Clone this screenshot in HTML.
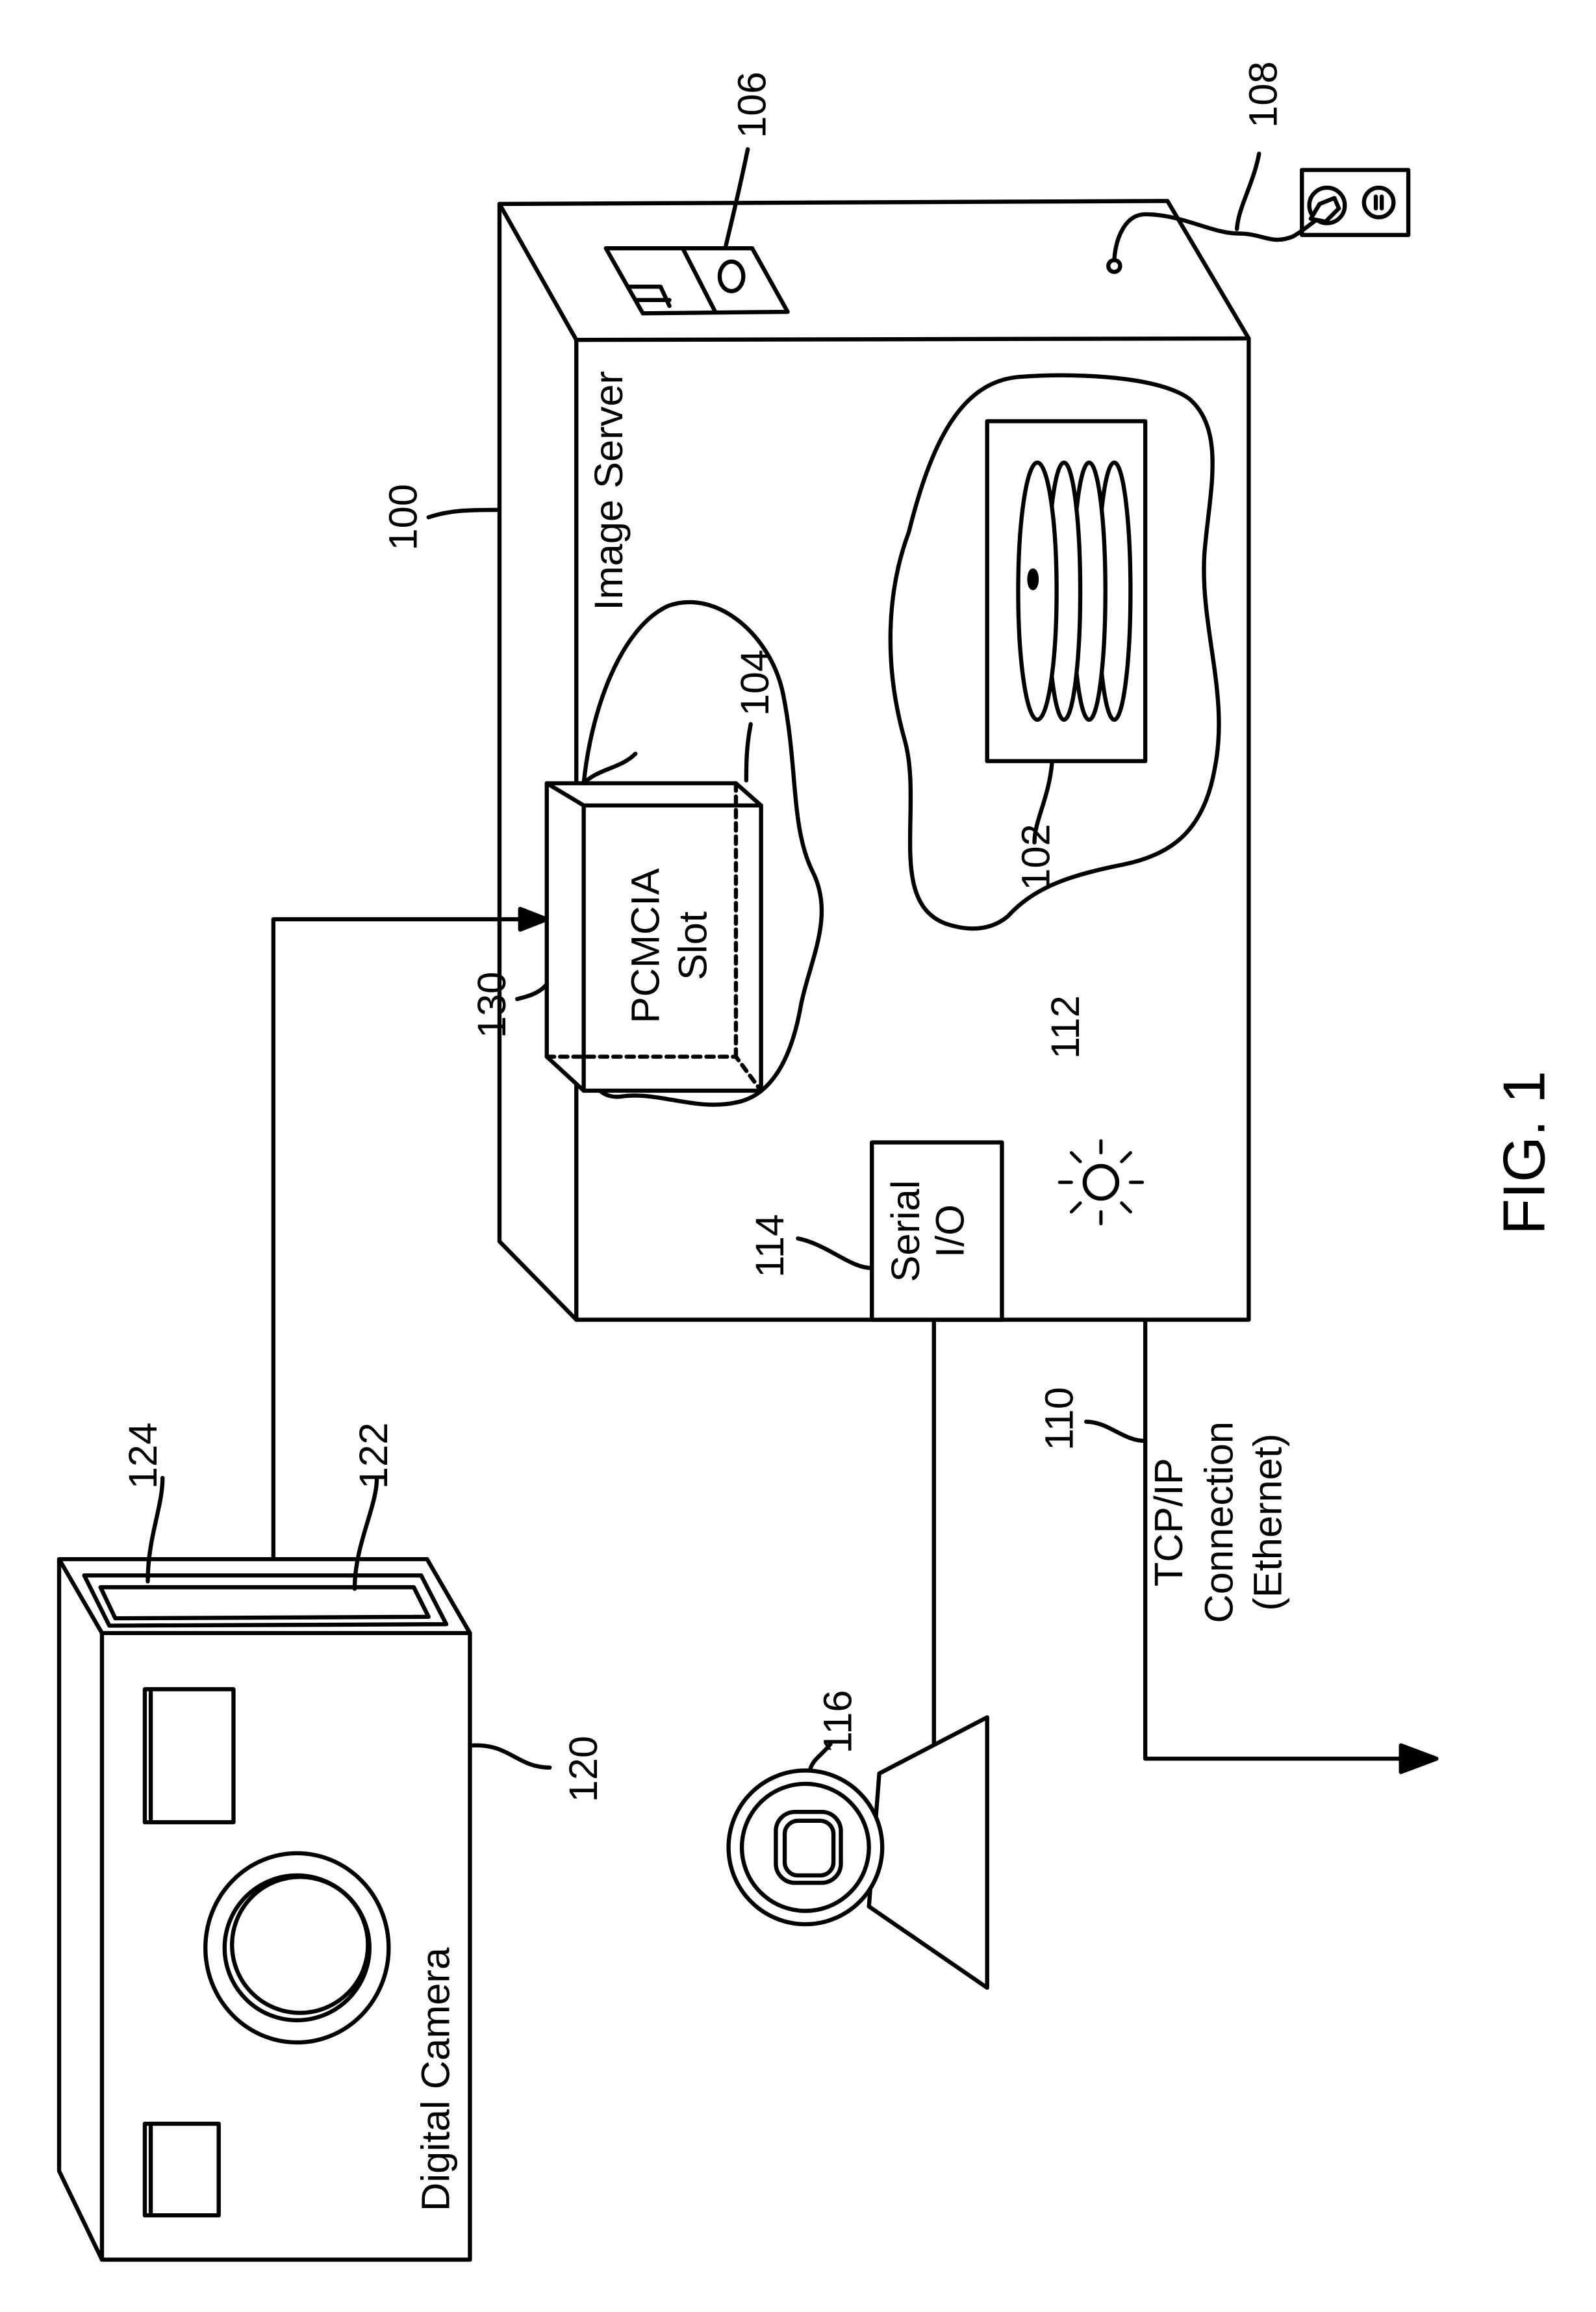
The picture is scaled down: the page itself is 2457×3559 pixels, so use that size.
<!DOCTYPE html>
<html><head><meta charset="utf-8"><style>
html,body{margin:0;padding:0;background:#fff;}
svg{display:block;}
text{font-family:"Liberation Sans",sans-serif;fill:#000;}
</style></head><body>
<svg xmlns="http://www.w3.org/2000/svg" width="2457" height="3559" viewBox="0 0 2457 3559">
<rect width="2457" height="3559" fill="#fff"/>
<g transform="scale(2.275)" fill="none" stroke="#000" stroke-width="2.8" stroke-linejoin="round" stroke-linecap="round">
<!-- Server -->
<polygon points="338,138 790,136 845,229 845,893 390,893 338,840" fill="#fff"/>
<polyline points="338,138 390,230 845,229"/>
<line x1="390" y1="230" x2="390" y2="893"/>
<!-- switch 106 -->
<polygon points="410,168 509,168 533,211 435,212"/>
<line x1="462" y1="168" x2="484" y2="211"/>
<polyline points="426,194 447,194 453,207"/>
<line x1="430" y1="203" x2="453" y2="203"/>
<ellipse cx="495" cy="187" rx="8" ry="10"/>
<path d="M506,101 C500,130 495,150 491,167"/>
<!-- power -->
<circle cx="754" cy="180" r="4"/>
<path d="M754,176 C755,160 762,145 775,145 C800,145 820,158 838,158 C855,158 860,166 875,160 C882,156 886,152 892,148"/>
<rect x="881" y="115" width="72" height="44"/>
<circle cx="898" cy="139" r="12"/>
<path d="M887,148 L893,138 L903,134 L906,141 L897,150 Z" fill="#fff"/>
<circle cx="933" cy="137" r="10"/>
<line x1="931" y1="133" x2="931" y2="141"/><line x1="935" y1="133" x2="935" y2="141"/>
<path d="M852,104 C848,125 838,140 837,155"/>
<!-- 100 leader -->
<path d="M290,350 C305,345 318,345 338,345"/>
<!-- cloud 102 -->
<path d="M640,625 C600,610 625,545 612,500 C598,450 600,400 615,360 C630,300 650,258 690,255 C730,252 785,255 805,270 C830,292 818,335 815,375 C812,425 832,470 822,520 C815,560 795,578 760,585 C725,592 700,600 682,620 C670,630 655,630 640,625 Z"/>
<rect x="668" y="285" width="107" height="230"/>
<ellipse cx="754" cy="400" rx="11" ry="87" fill="#fff"/>
<ellipse cx="737" cy="400" rx="11" ry="87" fill="#fff"/>
<ellipse cx="720" cy="400" rx="11" ry="87" fill="#fff"/>
<ellipse cx="702" cy="400" rx="13" ry="87" fill="#fff"/>
<ellipse cx="699" cy="392" rx="2.5" ry="6" fill="#000"/>
<path d="M712,515 C710,540 700,555 700,570"/>
<!-- cloud 104 -->
<path d="M395,530 C400,480 420,425 452,410 C485,398 522,430 530,470 C540,520 535,560 550,590 C565,620 548,650 542,680 C535,720 520,742 498,746 C470,752 445,738 420,742 C402,744 395,725 395,705"/>
<!-- PCMCIA -->
<polygon points="370,530 498,530 515,545 515,738 395,738 370,715" fill="#fff"/>
<polyline points="370,530 395,545 515,545"/>
<line x1="395" y1="545" x2="395" y2="738"/>
<polyline points="370,715 498,715 515,738" stroke-dasharray="5,4"/>
<line x1="498" y1="530" x2="498" y2="715" stroke-dasharray="5,4"/>
<path d="M508,490 C505,505 505,518 505,528"/>
<path d="M395,530 C405,520 420,520 430,510" />
<path d="M350,676 C358,674 365,672 370,666"/>
<!-- arrow from camera -->
<polyline points="185,1075 185,622 355,622"/>
<polygon points="370,622 352,615 352,629" fill="#000"/>
<!-- Serial I/O -->
<rect x="590" y="773" width="88" height="120" fill="#fff"/>
<path d="M540,838 C560,842 575,858 590,858"/>
<!-- sun 112 -->
<circle cx="745" cy="800" r="11"/>
<g stroke-width="2.2">
<line x1="745" y1="780" x2="745" y2="772"/><line x1="745" y1="820" x2="745" y2="828"/>
<line x1="725" y1="800" x2="717" y2="800"/><line x1="765" y1="800" x2="773" y2="800"/>
<line x1="731" y1="786" x2="725" y2="780"/><line x1="759" y1="786" x2="765" y2="780"/>
<line x1="731" y1="814" x2="725" y2="820"/><line x1="759" y1="814" x2="765" y2="820"/>
</g>
<!-- serial line -->
<polyline points="632,893 632,1200 600,1200"/>
<!-- TCP line -->
<polyline points="775,893 775,1190 950,1190"/>
<polygon points="972,1190 948,1181 948,1199" fill="#000"/>
<path d="M735,962 C750,962 760,975 775,975"/>
<!-- camera 116 -->
<polygon points="595,1200 668,1162 668,1345 588,1290" fill="#fff"/>
<circle cx="545" cy="1250" r="52" fill="#fff"/>
<circle cx="545" cy="1250" r="43"/>
<rect x="525" y="1226" width="44" height="48" rx="13"/>
<rect x="531" y="1232" width="33" height="37" rx="9"/>
<path d="M562,1180 C556,1188 550,1190 548,1198"/>
<!-- Digital camera 120 -->
<polygon points="40,1055 289,1055 318,1105 318,1529 69,1529 40,1469" fill="#fff"/>
<polyline points="40,1055 69,1105 318,1105"/>
<line x1="69" y1="1105" x2="69" y2="1529"/>
<polygon points="57,1066 285,1066 302,1099 74,1100"/>
<polygon points="68,1074 280,1074 290,1094 78,1095"/>
<rect x="98" y="1143" width="60" height="90"/>
<line x1="102" y1="1145" x2="102" y2="1231"/>
<rect x="98" y="1437" width="50" height="62"/>
<line x1="102" y1="1439" x2="102" y2="1497"/>
<ellipse cx="201" cy="1318" rx="62" ry="64"/>
<ellipse cx="201" cy="1318" rx="49" ry="49"/>
<ellipse cx="203" cy="1316" rx="46" ry="46"/>
<path d="M320,1181 C345,1180 350,1196 372,1196"/>
<path d="M100,1070 C100,1040 110,1020 110,1000"/>
<path d="M240,1075 C240,1045 255,1020 255,1000"/>
</g>
<g transform="scale(2.275)" font-size="27">
<text transform="translate(282,350) rotate(-90)" text-anchor="middle">100</text>
<text transform="translate(518,71) rotate(-90)" text-anchor="middle">106</text>
<text transform="translate(864,64) rotate(-90)" text-anchor="middle">108</text>
<text transform="translate(421,332) rotate(-90)" text-anchor="middle">Image Server</text>
<text transform="translate(520,462) rotate(-90)" text-anchor="middle">104</text>
<text transform="translate(710,580) rotate(-90)" text-anchor="middle">102</text>
<text transform="translate(446,640) rotate(-90)" text-anchor="middle">PCMCIA</text>
<text transform="translate(478,640) rotate(-90)" text-anchor="middle">Slot</text>
<text transform="translate(342,680) rotate(-90)" text-anchor="middle">130</text>
<text transform="translate(622,833) rotate(-90)" text-anchor="middle">Serial</text>
<text transform="translate(652,833) rotate(-90)" text-anchor="middle">I/O</text>
<text transform="translate(530,843) rotate(-90)" text-anchor="middle">114</text>
<text transform="translate(730,695) rotate(-90)" text-anchor="middle">112</text>
<text transform="translate(726,960) rotate(-90)" text-anchor="middle">110</text>
<text transform="translate(800,1030) rotate(-90)" text-anchor="middle">TCP/IP</text>
<text transform="translate(834,1030) rotate(-90)" text-anchor="middle">Connection</text>
<text transform="translate(867,1030) rotate(-90)" text-anchor="middle">(Ethernet)</text>
<text transform="translate(576,1165) rotate(-90)" text-anchor="middle">116</text>
<text transform="translate(404,1197) rotate(-90)" text-anchor="middle">120</text>
<text transform="translate(106,985) rotate(-90)" text-anchor="middle">124</text>
<text transform="translate(262,985) rotate(-90)" text-anchor="middle">122</text>
<text transform="translate(304,1407) rotate(-90)" text-anchor="middle">Digital Camera</text>
<text transform="translate(1045,780) rotate(-90)" text-anchor="middle" font-size="40">FIG. 1</text>
</g>
</svg>
</body></html>
